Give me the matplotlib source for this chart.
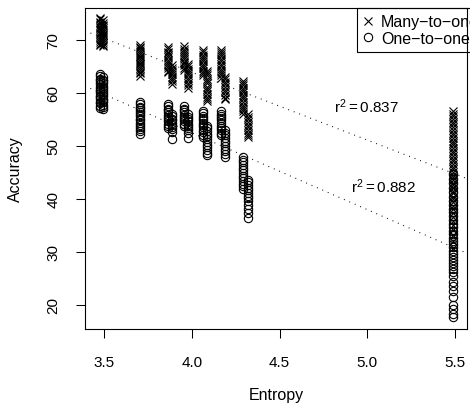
import numpy as np
import matplotlib
matplotlib.use("Agg")
import matplotlib.pyplot as plt

plt.rcParams['font.family'] = ['Liberation Sans', 'DejaVu Sans']
plt.rcParams['mathtext.fontset'] = 'custom'
plt.rcParams['mathtext.rm'] = 'Liberation Sans'
plt.rcParams['mathtext.it'] = 'Liberation Sans'

# entropy of each column of runs and the accuracies
entropy = [3.475, 3.492, 3.705, 3.865, 3.885, 3.958, 3.978,
           4.065, 4.085, 4.165, 4.188, 4.292, 4.318, 5.488]

many_to_one = [
    [74.2, 73.9, 73.4, 73.2, 72.8, 72.4, 72.2, 71.8, 71.3, 71.1, 70.7, 70.3,
     70.0, 69.7, 69.2, 69.0],
    [73.7, 73.3, 72.9, 72.6, 72.3, 71.9, 71.5, 71.2, 70.9, 70.5, 70.1, 69.8,
     69.5, 69.1, 68.8],
    [69.1, 68.7, 68.4, 68.1, 67.8, 67.4, 67.0, 66.8, 66.4, 66.1, 65.7, 65.4,
     65.1, 64.7, 64.3, 64.0, 63.7, 63.2],
    [68.7, 68.3, 67.8, 67.5, 67.1, 66.8, 66.3, 65.9, 65.4, 65.1, 64.7, 64.2, 63.9],
    [65.2, 64.8, 64.3, 63.9, 63.5, 63.0, 62.6, 62.2, 61.7],
    [68.8, 68.3, 68.0, 67.6, 67.1, 66.8, 66.4, 65.9, 65.6, 65.2, 64.8, 64.3],
    [65.5, 65.0, 64.6, 64.2, 63.8, 63.3, 62.8, 62.4, 61.9, 61.5, 61.0],
    [68.1, 67.7, 67.2, 66.8, 66.4, 66.0, 65.5, 65.1, 64.7, 64.2, 63.8, 63.4],
    [64.2, 63.7, 63.3, 62.7, 62.2, 61.8, 61.2, 60.7, 60.3, 59.7, 59.2, 58.8, 58.4],
    [68.2, 67.7, 67.3, 66.9, 66.5, 66.0, 65.5, 65.1, 64.6, 64.2, 63.8, 63.3, 62.8],
    [63.1, 62.6, 62.1, 61.7, 61.1, 60.6, 60.2, 59.6, 59.1, 58.8],
    [62.3, 61.8, 61.4, 61.0, 60.6, 60.1, 59.6, 59.2, 58.8, 58.3, 57.8, 57.4,
     56.9, 56.5, 56.1],
    [56.0, 55.5, 55.1, 54.5, 54.0, 53.6, 53.0, 52.5, 52.1, 51.6],
    [56.5, 56.0, 55.6, 55.0, 54.5, 54.1, 53.6, 53.0, 52.5, 52.1, 51.5, 51.0,
     50.6, 50.1, 49.5, 49.0, 48.6, 48.0, 47.5, 47.1, 46.5, 46.0, 45.6, 45.0,
     44.5, 44.1, 43.5, 43.0, 42.6, 42.0, 41.5, 41.1, 40.4, 39.9, 39.3, 38.6,
     38.0, 37.3, 36.5, 35.8, 35.0, 34.1, 33.2, 32.0, 30.6],
]

one_to_one = [
    [63.6, 63.2, 62.7, 62.4, 62.0, 61.6, 61.1, 60.8, 60.4, 60.0, 59.5, 59.2,
     58.8, 58.3, 58.0, 57.6, 57.2],
    [63.0, 62.5, 62.2, 61.8, 61.3, 61.0, 60.6, 60.1, 59.8, 59.4, 58.9, 58.6,
     58.2, 57.7, 57.4, 56.9],
    [58.3, 57.9, 57.4, 57.1, 56.7, 56.3, 56.0, 55.6, 55.1, 54.8, 54.4, 54.0,
     53.5, 53.2, 52.8, 52.3],
    [57.9, 57.5, 57.0, 56.7, 56.3, 55.8, 55.4, 55.0, 54.7, 54.2, 53.8, 53.4],
    [56.0, 55.6, 55.1, 54.8, 54.3, 54.0, 53.6, 53.1, 52.7, 51.2],
    [57.5, 57.0, 56.7, 56.3, 55.8, 55.5, 55.0, 54.7, 54.2, 53.8],
    [56.0, 55.5, 55.1, 54.7, 54.2, 53.8, 53.3, 52.9, 52.4, 51.5],
    [56.6, 56.2, 55.7, 55.3, 54.8, 54.3, 53.9, 53.5, 53.0, 52.6, 52.1, 51.7],
    [53.8, 53.3, 52.8, 52.2, 51.8, 51.3, 50.8, 50.2, 49.8, 49.3, 48.7, 48.3],
    [56.6, 56.1, 55.6, 55.2, 54.8, 54.3, 53.8, 53.4, 53.0, 52.5, 52.1],
    [53.0, 52.5, 52.0, 51.4, 51.0, 50.5, 50.0, 49.4, 49.0, 48.5, 47.9],
    [47.9, 47.3, 46.9, 46.4, 45.8, 45.4, 44.9, 44.3, 43.9, 43.4, 42.8, 42.4, 41.9],
    [43.6, 43.1, 42.6, 42.0, 41.6, 41.1, 40.5, 40.1, 39.6, 38.8, 38.1, 37.3, 36.4],
    [44.6, 43.8, 42.9, 42.0, 41.2, 40.4, 39.6, 38.9, 38.1, 37.4, 36.7, 36.0,
     35.3, 34.6, 33.9, 33.3, 32.6, 32.0, 31.4, 30.8, 30.2, 29.6, 29.0, 28.5,
     27.9, 27.3, 26.8, 26.1, 25.3, 24.3, 23.5, 22.6, 21.4, 20.0, 19.1, 18.3,
     17.6],
]

r2_labels = ['0.837', '0.882']
r2_pos = [(4.993, 57.6), (5.095, 42.5)]


def flatten(groups):
    xs, ys = [], []
    for e, g in zip(entropy, groups):
        xs += [e] * len(g)
        ys += g
    return np.array(xs), np.array(ys)


fig = plt.figure(figsize=(4.7, 4.1), dpi=100)
ax = fig.add_axes([85 / 470, 80 / 410, 382 / 470, 321 / 410])

x1, y1 = flatten(many_to_one)
x2, y2 = flatten(one_to_one)
ax.plot(x1, y1, 'x', color='black', ms=6, mew=0.8, label='Many\u2212to\u2212one')
ax.plot(x2, y2, 'o', color='black', mfc='none', ms=6, mew=0.8, label='One\u2212to\u2212one')

xlim = (3.392, 5.568)
xx = np.array(xlim)
for (xs, ys), lab, pos in zip([(x1, y1), (x2, y2)], r2_labels, r2_pos):
    b, a = np.polyfit(xs, ys, 1)
    ax.plot(xx, a + b * xx, color='black', lw=0.8, dashes=(0.8, 4.5))
    ax.text(pos[0], pos[1], r'$\mathregular{r^2 = ' + lab + '}$', ha='center',
            va='center', fontsize=11)

ax.set_xlim(*xlim)
ax.set_ylim(15.37, 76.05)
ax.set_xticks([3.5, 4.0, 4.5, 5.0, 5.5])
ax.set_yticks([20, 30, 40, 50, 60, 70])
ax.tick_params(direction='out', length=6.5, width=0.75, labelsize=11)
ax.tick_params(axis='x', pad=12.5)
ax.tick_params(axis='y', pad=11)
for lbl in ax.get_yticklabels():
    lbl.set_rotation(90)
    lbl.set_va('center')
for s in ax.spines.values():
    s.set_linewidth(0.8)

ax.set_xlabel('Entropy', fontsize=11.5)
ax.set_ylabel('Accuracy', fontsize=11.5)
ax.xaxis.set_label_coords(0.5, -0.181)
ax.yaxis.set_label_coords(-0.162, 0.5)

leg = ax.legend(loc='upper left', bbox_to_anchor=((357 - 85) / 382, 1.0),
                borderaxespad=0, fontsize=11.5, handlelength=0.6,
                handletextpad=0.5, labelspacing=0.1, borderpad=0.4,
                fancybox=False, framealpha=1, edgecolor='black')
leg.get_frame().set_linewidth(0.8)
leg.set_zorder(2.2)  # let the right-hand box edge show through, as in R

fig.savefig('out.png', dpi=100)
